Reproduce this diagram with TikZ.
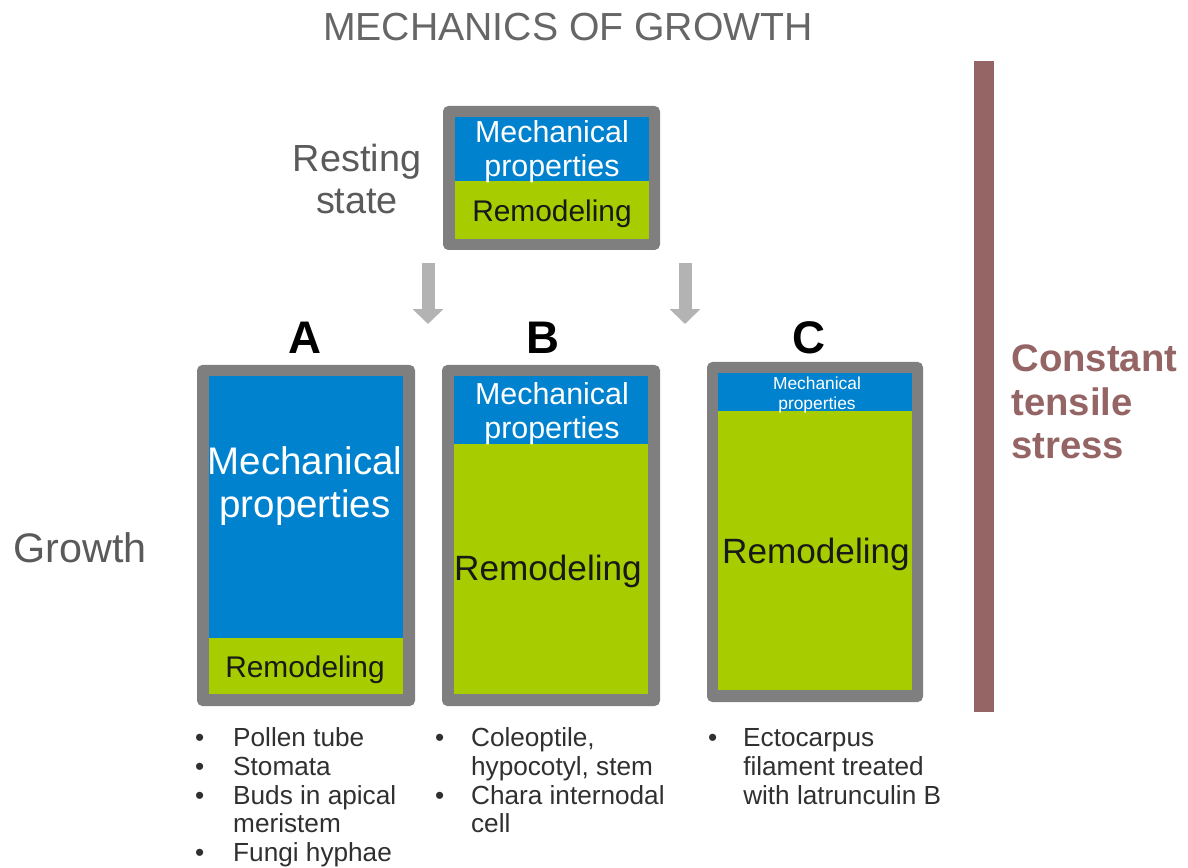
\documentclass[tikz,border=0pt]{standalone}
\usepackage{fontspec}
\setmainfont{Liberation Sans}
\usetikzlibrary{arrows.meta,positioning}
\definecolor{framegray}{HTML}{7F7F7F}
\definecolor{mechblue}{HTML}{0082CF}
\definecolor{remodgreen}{HTML}{A7CD00}
\definecolor{arrowgray}{HTML}{B3B3B3}
\definecolor{stressbrown}{HTML}{956464}
\definecolor{labelgray}{HTML}{5A5A5A}
\definecolor{titlegray}{HTML}{666666}
\definecolor{listgray}{HTML}{303030}
\tikzset{
  cellframe/.style={fill=framegray,rounded corners=3pt},
  mech/.style={fill=mechblue},
  remod/.style={fill=remodgreen},
  mechtext/.style={white,align=center,inner sep=0pt},
  remodtext/.style={black!90,inner sep=0pt},
  caselabel/.style={font=\fontsize{26}{30}\selectfont\bfseries,inner sep=0pt},
  sidelabel/.style={labelgray,align=center,inner sep=0pt,font=\fontsize{21.5}{24.4}\selectfont},
  growarrow/.style={arrowgray,line width=0.26cm,-{Triangle[width=0.6cm,length=0.3cm]}},
  caselist/.style={listgray,anchor=north west,inner sep=0pt,font=\fontsize{14.9}{16.4}\selectfont}
}
\newcommand{\bul}[1]{\makebox[#1][l]{\hspace{1pt}\textbullet}}

\begin{document}
\begin{tikzpicture}[x=0.02cm,y=-0.02cm]
  \useasboundingbox (0,0) rectangle (1188,868);

  \node[titlegray,inner sep=0pt,font=\fontsize{22.3}{26}\selectfont] (title) at (568,27) {MECHANICS OF GROWTH};

  % resting state cell
  \node[sidelabel] (resting) at (357,179) {Resting\\state};
  \fill[cellframe] (443,106) rectangle (660,250);
  \fill[mech] (455,117) rectangle (649,181);
  \fill[remod] (455,181) rectangle (649,239);
  \node[mechtext,font=\fontsize{17.3}{19.3}\selectfont] (mech0) at (552,152) {Mechanical\\properties};
  \node[remodtext,font=\fontsize{17}{20}\selectfont] (remod0) at (552,214) {Remodeling};

  \coordinate (arrL) at (428,263);
  \coordinate (arrLend) at (428,324);
  \coordinate (arrR) at (685,263);
  \coordinate (arrRend) at (685,324);
  \draw[growarrow] (arrL) -- (arrLend);
  \draw[growarrow] (arrR) -- (arrRend);

  \node[caselabel] (labA) at (305,338) {A};
  \node[caselabel] (labB) at (543,338) {B};
  \node[caselabel] (labC) at (809,338) {C};

  \node[labelgray,inner sep=0pt,font=\fontsize{23.5}{27}\selectfont] (growth) at (80,548) {Growth};

  % case A
  \fill[cellframe] (197,365) rectangle (415,706);
  \fill[mech] (209,376) rectangle (403,638);
  \fill[remod] (209,638) rectangle (403,694);
  \node[mechtext,font=\fontsize{21.9}{24.4}\selectfont] (mechA) at (305,486) {Mechanical\\properties};
  \node[remodtext,font=\fontsize{17}{20}\selectfont] (remodA) at (305,670) {Remodeling};

  % case B
  \fill[cellframe] (442,365) rectangle (660,706);
  \fill[mech] (454,376) rectangle (648,444);
  \fill[remod] (454,444) rectangle (648,694);
  \node[mechtext,font=\fontsize{17.3}{19.3}\selectfont] (mechB) at (552,414) {Mechanical\\properties};
  \node[remodtext,font=\fontsize{20}{24}\selectfont] (remodB) at (548,571) {Remodeling};

  % case C
  \fill[cellframe] (707,362) rectangle (923,702);
  \fill[mech] (718,373) rectangle (912,411);
  \fill[remod] (718,411) rectangle (912,690);
  \node[mechtext,font=\fontsize{9.9}{11.3}\selectfont] (mechC) at (817,395) {Mechanical\\properties};
  \node[remodtext,font=\fontsize{20}{24}\selectfont] (remodC) at (816,554) {Remodeling};

  % examples
  \node[caselist] (listA) at (193,726) {\begin{tabular}{@{}l@{}l@{}}
    \bul{22.7pt} & Pollen tube\\
    \bul{22.7pt} & Stomata\\
    \bul{22.7pt} & Buds in apical\\
      & meristem\\
    \bul{22.7pt} & Fungi hyphae
  \end{tabular}};
  \node[caselist] (listB) at (433,726) {\begin{tabular}{@{}l@{}l@{}}
    \bul{21.5pt} & Coleoptile,\\
      & hypocotyl, stem\\
    \bul{21.5pt} & Chara internodal\\
      & cell
  \end{tabular}};
  \node[caselist] (listC) at (706,726) {\begin{tabular}{@{}l@{}l@{}}
    \bul{21pt} & Ectocarpus\\
      & filament treated\\
      & with latrunculin B
  \end{tabular}};

  % tensile stress bar
  \fill[stressbrown] (974,61) rectangle (994,712);
  \node[stressbrown,anchor=west,align=left,inner sep=0pt,font=\fontsize{21.8}{24.7}\selectfont\bfseries] (stress) at (1011,402) {Constant\\tensile\\stress};
\end{tikzpicture}
\end{document}
